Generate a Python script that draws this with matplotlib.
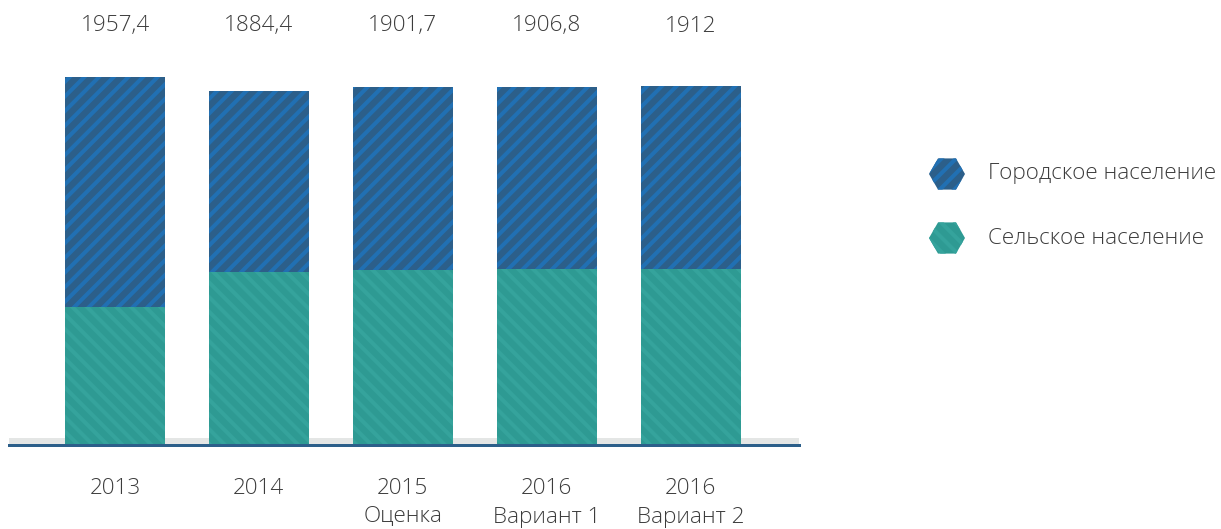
import numpy as np
import matplotlib
matplotlib.use("Agg")
import matplotlib.pyplot as plt
from matplotlib.patches import RegularPolygon
import matplotlib.transforms as mtransforms

# ---- data ----
categories = ["2013", "2014", "2015\nОценка", "2016\nВариант 1", "2016\nВариант 2"]
totals = [1957.4, 1884.4, 1901.7, 1906.8, 1912.0]
total_labels = ["1957,4", "1884,4", "1901,7", "1906,8", "1912"]
rural = [734, 920, 931, 936, 937]
urban = [t - r for t, r in zip(totals, rural)]
series_names = ["Городское население", "Сельское население"]

# ---- style ----
DPI = 132
W, H = 1221, 529
plt.rcParams['font.family'] = ['Open Sans', 'DejaVu Sans']
plt.rcParams['font.weight'] = 'light'
plt.rcParams['hatch.linewidth'] = 2.2
TXT = '#3c3c3c'
URB_FACE, URB_HATCH = '#2c5f8a', '#2170b3'
RUR_FACE, RUR_HATCH = '#2e9a93', '#35a39c'
FS = 22.5 * 72 / DPI  # font size in pt from px

fig = plt.figure(figsize=(W / DPI, H / DPI), dpi=DPI)

def px2fig(x0, y0, x1, y1):
    return [x0 / W, 1 - y1 / H, (x1 - x0) / W, (y1 - y0) / H]

ax = fig.add_axes(px2fig(9, 45, 799, 445))
px_per_unit_x = 143.9
xs = np.arange(len(categories))
ax.set_xlim(-(115 - 9) / px_per_unit_x, 4 + (799 - 690.5) / px_per_unit_x)
scale = 368 / 1957.4
ax.set_ylim(0, 400 / scale)

ax.axhspan(0, 7 / scale, color='#e4e6e5', lw=0, zorder=0)

bw = 100 / px_per_unit_x
ax.bar(xs, rural, width=bw, color=RUR_FACE, edgecolor=RUR_HATCH, hatch='\\\\\\',
       linewidth=0, zorder=2)
ax.bar(xs, urban, bottom=rural, width=bw, color=URB_FACE, edgecolor=URB_HATCH,
       hatch='///', linewidth=0, zorder=2)

for s in ['top', 'right', 'left']:
    ax.spines[s].set_visible(False)
ax.spines['bottom'].set_color('#2c5f8a')
ax.spines['bottom'].set_linewidth(3 * 72 / DPI)
ax.spines['bottom'].set_zorder(3)
ax.set_yticks([])
ax.set_xticks(xs)
ax.set_xticklabels([])
ax.tick_params(axis='x', length=0)

trans_x = mtransforms.blended_transform_factory(ax.transData, fig.transFigure)
for x, c in zip(xs, categories):
    for i, ln in enumerate(c.split("\n")):
        ax.text(x, 1 - (489 + 28 * i) / H, ln, transform=trans_x, ha='center',
                va='center', fontsize=FS, color=TXT, clip_on=False)

for x, lab in zip(xs, total_labels):
    ax.text(x, 1 - 26 / H, lab, transform=trans_x, ha='center', va='center',
            fontsize=FS, color=TXT, clip_on=False)

leg = [(series_names[0], URB_FACE, URB_HATCH, '///', 174),
       (series_names[1], RUR_FACE, RUR_HATCH, '\\\\\\', 238)]
for name, face, hc, hatch, ypx in leg:
    poly = RegularPolygon((947 / DPI, (H - ypx) / DPI), numVertices=6,
                          radius=18 / DPI, orientation=np.pi / 6,
                          facecolor=face, edgecolor=hc, hatch=hatch, linewidth=0,
                          transform=fig.dpi_scale_trans)
    fig.add_artist(poly)
    fig.text(988 / W, 1 - ypx / H, name, ha='left', va='center', fontsize=FS,
             color=TXT)

fig.savefig("out.png", dpi=DPI)
